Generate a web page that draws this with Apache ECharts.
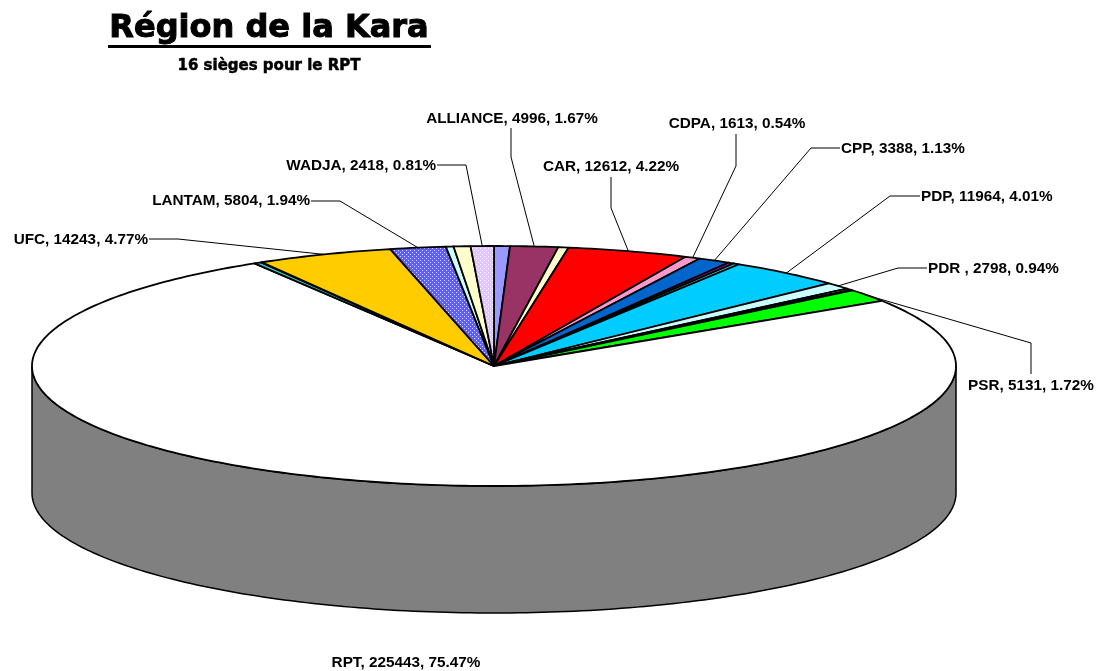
<!DOCTYPE html>
<html>
<head>
<meta charset="utf-8">
<title>Région de la Kara</title>
<style>
html,body{margin:0;padding:0;background:#fff;}
#main{width:1099px;height:671px;}
</style>
<script src="https://cdn.jsdelivr.net/npm/echarts@6/dist/echarts.min.js"></script>
</head>
<body>
<div id="main"></div>
<script>
// clockwise from 12 o'clock. empty name = slice without a label on the picture
var names = ['', 'ALLIANCE', '', 'CAR', 'CDPA', 'CPP', '', '', 'PDP', 'PDR ', '', '', 'PSR', 'RPT', '', '', 'UFC', 'LANTAM', '', '', 'WADJA'];
var values = [1650, 4996, 1075, 12612, 1613, 3388, 600, 650, 11964, 2798, 684, 200, 5131, 225443, 800, 100, 14243, 5804, 800, 1750, 2418];
var colors = ['#9999ff', '#993366', '#ffffcc', '#ff0000', '#ff99cc', '#0066cc', '#ff00ff', '#33cccc', '#00ccff', '#ccffff', '#ffcc99', '#000000', '#00ff00', '#ffffff', '#33cccc', '#000000', '#ffcc00', 'lantam', '#ccffff', '#ffffcc', 'wadja'];

var total = 0;
for(var i = 0;i < values.length;i ++){
	total += values[i];
}

// pie geometry
var cx = 494, cy = 366, rx = 462, ry = 120, depth = 127;

// label box: text anchor point + bend of the leader line
var labelPos = {
	'ALLIANCE':{x:512,y:119,align:'center',line:[[511,128],[511,157]]},
	'CAR':{x:611,y:167,align:'center',line:[[611,177],[611,208]]},
	'CDPA':{x:737,y:124,align:'center',line:[[736,134],[736,166]]},
	'CPP':{x:841,y:149,align:'left',line:[[840,148],[811,148]]},
	'PDP':{x:921,y:197,align:'left',line:[[920,196],[890,196]]},
	'PDR ':{x:928,y:269,align:'left',line:[[927,268],[898,268]]},
	'PSR':{x:1031,y:386,align:'center',line:[[1031,374],[1031,343]]},
	'RPT':{x:406,y:663,align:'center',line:null},
	'UFC':{x:148,y:240,align:'right',line:[[149,239],[178,239]]},
	'LANTAM':{x:310,y:201,align:'right',line:[[311,201],[340,201]]},
	'WADJA':{x:436,y:166,align:'right',line:[[437,165],[466,165]]}
};

function point(a){
	return [cx + rx * Math.sin(a), cy - ry * Math.cos(a)];
}

// dotted fill used by two of the slices
function dotted(color,dot){
	var c = document.createElement('canvas');
	c.width = 4;
	c.height = 4;
	var ctx = c.getContext('2d');
	ctx.fillStyle = color;
	ctx.fillRect(0,0,4,4);
	ctx.fillStyle = dot;
	ctx.fillRect(0,0,1,1);
	ctx.fillRect(2,2,1,1);
	return {image:c,repeat:'repeat'};
}
var fills = {lantam:dotted('#5f5ff5','#d8d8ff'),wadja:dotted('#e2c4ff','#ffffff')};

function startAngle(idx){
	var sum = 0;
	for(var i = 0;i < idx;i ++){
		sum += values[i];
	}
	return sum / total * Math.PI * 2;
}

function renderWall(){
	var pts = [];
	for(var a = 90;a <= 270;a ++){
		pts.push(point(a * Math.PI / 180));
	}
	for(var a = 270;a >= 90;a --){
		var p = point(a * Math.PI / 180);
		pts.push([p[0],p[1] + depth]);
	}
	return {
		type:'polygon',
		shape:{points:pts},
		style:{fill:'#808080',stroke:'#000',lineWidth:1.5}
	};
}

function renderSlice(params,api){
	var idx = api.value(0);
	var a0 = startAngle(idx);
	var a1 = a0 + values[idx] / total * Math.PI * 2;
	var pts = [[cx,cy]];
	var n = Math.max(2,Math.ceil((a1 - a0) * 60));
	for(var k = 0;k <= n;k ++){
		pts.push(point(a0 + (a1 - a0) * k / n));
	}
	var c = colors[idx];
	return {
		type:'polygon',
		shape:{points:pts},
		style:{fill:fills[c] || c,stroke:'#000',lineWidth:1.8,lineJoin:'round'}
	};
}

function renderLabel(params,api){
	var idx = api.value(0);
	var name = names[idx];
	var pos = labelPos[name];
	var pct = (values[idx] / total * 100).toFixed(2);
	var children = [];
	if(pos.line){
		var mid = startAngle(idx) + values[idx] / total * Math.PI;
		children.push({
			type:'polyline',
			shape:{points:pos.line.concat([point(mid)])},
			style:{fill:null,stroke:'#000',lineWidth:1}
		});
	}
	children.push({
		type:'text',
		x:pos.x,
		y:pos.y,
		style:{
			text:name + ', ' + values[idx] + ', ' + pct + '%',
			fontFamily:'Liberation Sans',
			fontWeight:'bold',
			fontSize:15.3,
			fill:'#000',
			align:pos.align,
			verticalAlign:'middle'
		}
	});
	return {type:'group',children:children};
}

var sliceIdx = [], labelIdx = [];
for(var i = 0;i < values.length;i ++){
	sliceIdx.push([i]);
	if(names[i]){
		labelIdx.push([i]);
	}
}

var mychart = echarts.init(document.getElementById('main'));
mychart.setOption({
	animation:false,
	backgroundColor:'#fff',
	title:{
		text:'Région de la Kara',
		subtext:'16 sièges pour le RPT',
		left:264,
		top:8,
		textAlign:'center',
		itemGap:13,
		textStyle:{fontFamily:'DejaVu Sans',fontWeight:'bold',fontSize:32,color:'#000',textBorderColor:'#000',textBorderWidth:1},
		subtextStyle:{fontFamily:'DejaVu Sans',fontWeight:'bold',fontSize:15,color:'#000',align:'center',textBorderColor:'#000',textBorderWidth:0.5}
	},
	graphic:[{
		type:'rect',
		shape:{x:108,y:45,width:323,height:3},
		style:{fill:'#000'}
	}],
	series:[
		{type:'custom',coordinateSystem:'none',silent:true,data:[[0]],renderItem:renderWall},
		{type:'custom',coordinateSystem:'none',silent:true,data:sliceIdx,renderItem:renderSlice},
		{type:'custom',coordinateSystem:'none',silent:true,data:labelIdx,renderItem:renderLabel}
	]
});
</script>
</body>
</html>
